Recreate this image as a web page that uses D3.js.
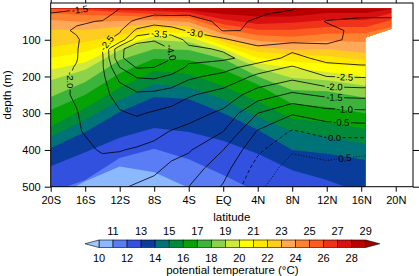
<!DOCTYPE html>
<html><head><meta charset="utf-8">
<script src="https://cdn.jsdelivr.net/npm/d3@7"></script>
<style>
body{margin:0;background:#fff}
svg{display:block}
text{font-family:"Liberation Sans",Arial,Helvetica,sans-serif;fill:#000}
</style>
</head><body>
<svg id="c" width="419" height="276"></svg>
<script>
// ---------------- DATA ----------------
const tempLevels = [10,11,12,13,14,15,16,17,18,19,20,21,22,23,24,25,26,27,28,29];
const tempColors = ["#9fc9ff","#8cb8ff","#5a7cf5","#3251de","#0a3c9c","#007378","#008a3a",
  "#05a305","#3cb43c","#8cd24a","#cfea3c","#ffff00","#ffe800","#ffcc20","#ffa858",
  "#ff8230","#ff5a20","#f0321a","#d81010","#b80000","#a00000"];
const isoLats = [-20,-16,-12,-8,-4,0,4,8,12,16.5,19.5];
const isothermDepths = [
  [560,560,560,560,560,560,560,560,560,560,560], // 10
  [536,485,445,461,503,540,580,600,600,600,600], // 11
  [515,482,422,397,425,468,515,560,580,600,600], // 12
  [444,406,367,340,351,375,410,455,482,520,520], // 13
  [395,351,297,256,261,300,345,400,410,427,427], // 14
  [365,318,264,220,229,262,310,350,365,383,383], // 15
  [337,286,231,185,193,226,268,315,325,343,343], // 16
  [291,250,191,152,155,182,222,275,283,300,300], // 17
  [256,215,155,125,128,152,200,237,240,258,258], // 18
  [210,182,128,101,106,134,177,204,210,225,225], // 19
  [182,161,117, 90, 92,124,163,177,188,201,201], // 20
  [150,133,103, 79, 82,116,148,160,166,174,170], // 21
  [120,106, 87, 68, 71,106,133,141,144,155,150], // 22
  [ 73, 73, 65, 57, 63, 95,118,128,125,136,100], // 23
  [ 46, 52, 49, 46, 52, 84,103,109,103,106, 80], // 24
  [ 27, 33, 35, 38, 41, 70, 88, 92, 84, 82, 65], // 25
  [ 16, 19, 25, 30, 33, 58, 73, 73, 65, 65, 46], // 26
  [ 15, 15, 19, 22, 25, 44, 57, 54, 46, 46, 27], // 27
  [ 15, 15, 15, 16, 19, 30, 37, 37, 27, 27, 16], // 28
  [ 15, 15, 15, 15, 15, 16, 19, 19, 15, 15, 15]  // 29
];
const coverageDepths = [15, 71, 94, 500];
const coverageEast   = [19.5, 19.5, 16.5, 16.5];
const coverageWest   = -20;

const anomLats   = [-20,-17,-14,-12,-10,-8,-6,-4,0,4,8,12,16,20];
const anomDepths = [15,30,50,75,100,125,150,175,200,250,300,350,400,450,500];
const anomGrid = [
  [-1.40,-1.45,-1.55,-2.00,-2.10,-2.30,-2.35,-2.40,-2.35,-2.45,-2.48,-2.75,-2.80,-2.80],
  [-1.52,-1.65,-1.80,-2.15,-2.25,-2.45,-2.45,-2.48,-2.40,-2.48,-2.55,-2.85,-2.90,-2.90],
  [-1.70,-1.95,-2.02,-2.30,-2.60,-2.80,-2.70,-2.60,-2.45,-2.52,-2.75,-3.02,-3.10,-3.10],
  [-1.85,-2.05,-2.20,-2.45,-3.10,-3.30,-3.20,-2.95,-2.48,-2.52,-2.90,-2.90,-3.10,-3.10],
  [-1.85,-1.95,-2.40,-2.65,-3.80,-3.95,-3.80,-3.35,-3.10,-2.60,-2.95,-2.92,-3.10,-3.10],
  [-1.85,-1.97,-2.50,-3.90,-4.30,-4.30,-3.98,-3.60,-3.45,-3.20,-3.10,-3.10,-3.20,-3.20],
  [-1.85,-1.98,-2.45,-3.90,-4.35,-4.30,-4.02,-3.65,-3.60,-3.30,-2.85,-3.15,-3.30,-3.30],
  [-1.85,-2.02,-2.45,-3.50,-4.05,-4.00,-3.85,-3.40,-3.20,-2.75,-2.45,-2.85,-2.90,-2.90],
  [-1.85,-2.05,-2.40,-3.15,-3.55,-3.60,-3.40,-3.10,-2.85,-2.40,-2.15,-2.50,-2.55,-2.55],
  [-1.85,-2.05,-2.35,-2.70,-2.90,-2.85,-2.75,-2.55,-2.30,-1.75,-1.40,-1.60,-1.65,-1.65],
  [-1.85,-1.98,-2.30,-2.45,-2.55,-2.45,-2.35,-2.20,-1.90,-1.00,-0.55,-0.80,-0.85,-0.85],
  [-1.85,-1.95,-2.20,-2.20,-2.25,-2.15,-1.97,-1.85,-1.50,-0.45, 0.05,-0.15,-0.20,-0.20],
  [-1.85,-1.90,-2.03,-2.02,-1.95,-1.85,-1.65,-1.55,-1.00,-0.10, 0.45, 0.30, 0.40, 0.40],
  [-1.80,-1.85,-1.88,-1.80,-1.70,-1.60,-1.40,-1.25,-0.70, 0.20, 0.70, 0.65, 0.70, 0.70],
  [-1.75,-1.80,-1.75,-1.55,-1.45,-1.35,-1.15,-1.00,-0.45, 0.40, 0.85, 0.80, 0.85, 0.85]
];
const contourLevels = [-4.0,-3.5,-3.0,-2.5,-2.0,-1.5,-1.0,-0.5,0.0,0.5];
const labelLevels = [-1.5,-2.0,-2.5,-3.5,-3.0,-4.0,-2.5,-2.0,-1.5,-1.0,-0.5,0.0,0.5];
const labelLats   = [-16.6,-18.0,-13.5,-7.4,-3.3,-6.6,14.1,12.9,12.9,14.1,13.7,12.9,14.1];
const labelDepths = [24,210,109,79,82,138,199,226,256,286,321,365,422];

const xTicks = [-20,-16,-12,-8,-4,0,4,8,12,16,20];
const xTickLabels = ["20S","16S","12S","8S","4S","EQ","4N","8N","12N","16N","20N"];
const yTicks = [100,200,300,400,500];

// ---------------- DRAW ----------------
const W = 419, H = 276;
const svg = d3.select("#c");
const defs = svg.append("defs");
const x = d3.scaleLinear().domain([-20, 22]).range([50.7, 413]);
const y = d3.scaleLinear().domain([0, 500]).range([3, 186.7]);

const covArea = d3.area()
  .y(d => y(d))
  .x0(() => x(coverageWest))
  .x1((d, i) => x(coverageEast[i]));
defs.append("clipPath").attr("id", "cov").append("path").attr("d", covArea(coverageDepths));

const gFill = svg.append("g").attr("clip-path", "url(#cov)");
gFill.append("rect").attr("x", x(-20)).attr("y", y(0))
  .attr("width", x(22) - x(-20)).attr("height", y(500) - y(0))
  .attr("fill", tempColors[0]);
tempLevels.forEach((T, k) => {
  const area = d3.area()
    .x((d, i) => x(isoLats[i]))
    .y0(y(0))
    .y1(d => y(d));
  gFill.append("path").attr("d", area(isothermDepths[k])).attr("fill", tempColors[k + 1]);
});

const nx = anomLats.length, ny = anomDepths.length;
const gx = d3.scaleLinear().domain(anomLats.map((_, i) => i + 0.5)).range(anomLats.map(v => x(v)));
const gy = d3.scaleLinear().domain(anomDepths.map((_, i) => i + 0.5)).range(anomDepths.map(v => y(v)));
const cs = d3.contours().size([nx, ny]).thresholds(contourLevels)(anomGrid.flat());

function ringsPx(c) {
  const rings = [];
  c.coordinates.forEach(poly => poly.forEach(r => rings.push(r.map(p => [gx(p[0]), gy(p[1])]))));
  return rings;
}
const contourRings = cs.map(c => ({value: c.value, rings: ringsPx(c)}));

const mask = defs.append("mask").attr("id", "lblmask")
  .attr("maskUnits", "userSpaceOnUse").attr("x", 0).attr("y", 0).attr("width", W).attr("height", H);
mask.append("rect").attr("width", W).attr("height", H).attr("fill", "white");

const gLinesClip = svg.append("g").attr("clip-path", "url(#cov)");
const gLines = gLinesClip.append("g").attr("mask", "url(#lblmask)");
contourRings.forEach(cr => {
  const d = cr.rings.map(r => "M" + r.map(p => p[0].toFixed(2) + "," + p[1].toFixed(2)).join("L") + "Z").join("");
  const p = gLines.append("path").attr("d", d).attr("fill", "none")
    .attr("stroke", "#000").attr("stroke-width", 0.8).attr("stroke-linejoin", "round");
  if (Math.abs(cr.value) < 1e-9) p.attr("stroke-dasharray", "3.5,2.5");
  else if (cr.value > 0) p.attr("stroke-dasharray", "1,1.8");
});

const gLbl = svg.append("g");
labelLevels.forEach((lv, i) => {
  const tx = x(labelLats[i]), ty = y(labelDepths[i]);
  const cr = contourRings.find(c => Math.abs(c.value - lv) < 1e-9);
  if (!cr) return;
  let best = null;
  cr.rings.forEach(r => {
    for (let j = 0; j < r.length - 1; j++) {
      const a = r[j], b = r[j + 1];
      const dx = b[0] - a[0], dy = b[1] - a[1];
      const L2 = dx * dx + dy * dy;
      if (L2 === 0) continue;
      let t = ((tx - a[0]) * dx + (ty - a[1]) * dy) / L2;
      t = Math.max(0, Math.min(1, t));
      const px = a[0] + t * dx, py = a[1] + t * dy;
      const dist = (px - tx) ** 2 + (py - ty) ** 2;
      if (!best || dist < best.dist) best = {dist, px, py, ang: Math.atan2(dy, dx) * 180 / Math.PI};
    }
  });
  if (!best) return;
  let ang = best.ang;
  if (ang > 90) ang -= 180;
  if (ang <= -90) ang += 180;
  const txt = lv.toFixed(1);
  const t = gLbl.append("text")
    .attr("transform", `translate(${best.px},${best.py}) rotate(${ang})`)
    .attr("text-anchor", "middle").attr("dy", "0.35em")
    .attr("font-size", 9.5).text(txt);
  const w = t.node().getComputedTextLength() + 3;
  mask.append("rect").attr("x", -w / 2).attr("y", -5).attr("width", w).attr("height", 10)
    .attr("fill", "black")
    .attr("transform", `translate(${best.px},${best.py}) rotate(${ang})`);
});

const gAx = svg.append("g").style("color", "#000");
gAx.append("g").attr("transform", `translate(0,${y(500)})`)
  .call(d3.axisBottom(x).tickValues(xTicks).tickFormat((d, i) => xTickLabels[i]).tickSize(5).tickPadding(4.5).tickSizeOuter(0));
gAx.append("g").attr("transform", `translate(0,${y(0)})`)
  .call(d3.axisTop(x).tickValues(xTicks).tickFormat("").tickSize(5).tickSizeOuter(0));
gAx.append("g").attr("transform", `translate(${x(-20)},0)`)
  .call(d3.axisLeft(y).tickValues(yTicks).tickSize(6).tickPadding(4).tickSizeOuter(0));
gAx.append("g").attr("transform", `translate(${x(22)},0)`)
  .call(d3.axisRight(y).tickValues(yTicks).tickFormat("").tickSize(6).tickSizeOuter(0));
gAx.selectAll(".domain").remove();
gAx.selectAll(".tick line").attr("stroke-width", 1);
gAx.selectAll(".tick text").attr("font-size", 11).attr("font-family", "Liberation Sans, Arial, sans-serif");

svg.append("rect").attr("x", x(-20)).attr("y", y(0))
  .attr("width", x(22) - x(-20)).attr("height", y(500) - y(0))
  .attr("fill", "none").attr("stroke", "#000").attr("stroke-width", 1);

svg.append("text").attr("x", (x(-20) + x(22)) / 2).attr("y", 221)
  .attr("text-anchor", "middle").attr("font-size", 11.5).text("latitude");
svg.append("text").attr("transform", `translate(11,${(y(0) + y(500)) / 2}) rotate(-90)`)
  .attr("text-anchor", "middle").attr("font-size", 11.5).text("depth (m)");

const cb = d3.scaleLinear().domain([10, 29]).range([99, 365.7]);
const cbTop = 240, cbH = 7.5;
const gCb = svg.append("g");
const bw = cb(11) - cb(10);
for (let i = 0; i < tempLevels.length - 1; i++) {
  gCb.append("rect").attr("x", cb(tempLevels[i])).attr("y", cbTop)
    .attr("width", cb(tempLevels[i + 1]) - cb(tempLevels[i])).attr("height", cbH)
    .attr("fill", tempColors[i + 1]).attr("stroke", "#000").attr("stroke-width", 0.6);
}
const x0 = cb(tempLevels[0]), x1 = cb(tempLevels[tempLevels.length - 1]);
gCb.append("path").attr("d", `M${x0},${cbTop}L${x0 - bw},${cbTop + cbH / 2}L${x0},${cbTop + cbH}Z`)
  .attr("fill", tempColors[0]).attr("stroke", "#000").attr("stroke-width", 0.6);
gCb.append("path").attr("d", `M${x1},${cbTop}L${x1 + bw},${cbTop + cbH / 2}L${x1},${cbTop + cbH}Z`)
  .attr("fill", tempColors[tempColors.length - 1]).attr("stroke", "#000").attr("stroke-width", 0.6);
tempLevels.forEach((T, i) => {
  const above = (i % 2 === 1);
  gCb.append("text").attr("x", cb(T)).attr("y", above ? 234.5 : 261.5)
    .attr("text-anchor", "middle").attr("font-size", 11).text(T);
});
svg.append("text").attr("x", (cb(10) - bw + cb(29) + bw) / 2).attr("y", 273.5)
  .attr("text-anchor", "middle").attr("font-size", 11.5).text("potential temperature (°C)");
</script>
</body></html>
